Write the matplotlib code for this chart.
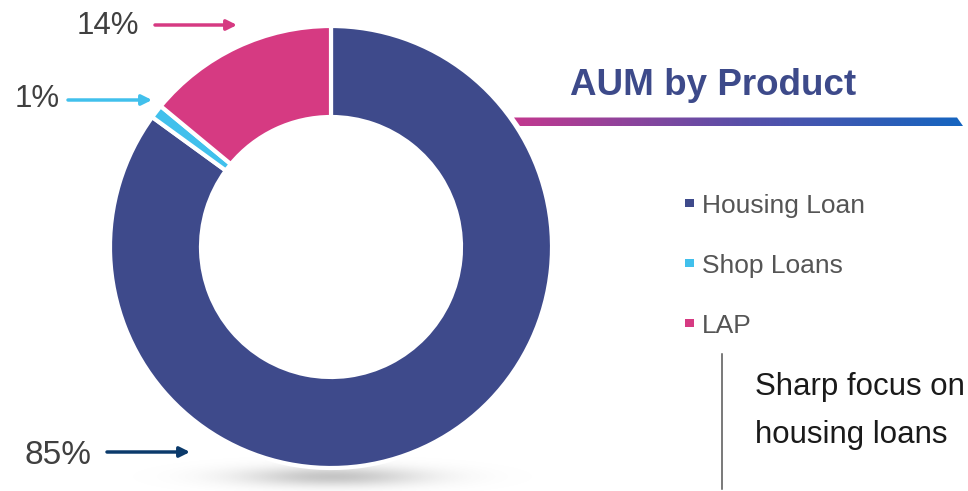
import numpy as np
import matplotlib.pyplot as plt
from matplotlib.patches import Polygon, Rectangle
from matplotlib.colors import LinearSegmentedColormap

products = ["Housing Loan", "Shop Loans", "LAP"]
shares = [85, 1, 14]
colors = ["#3e4a8b", "#41c0ec", "#d63a82"]
pct_labels = ["85%", "1%", "14%"]
arrow_colors = ["#0b3a6b", "#41c0ec", "#d63a82"]

W, H = 968, 491
plt.rcParams['font.family'] = ['Liberation Sans', 'DejaVu Sans']

fig = plt.figure(figsize=(W / 100, H / 100), dpi=100)
ax = fig.add_axes([0, 0, 1, 1])

def py(y):
    # pixel row (top-down) to data y
    return H - y

cx, cy, r_out = 331, py(247), 221

# soft shadow under the donut
gx = np.linspace(-1, 1, 300)
gy = np.linspace(-1, 1, 80)
GX, GY = np.meshgrid(gx, gy)
alpha = np.exp(-(GX ** 2) / 0.12 - (GY ** 2) / 0.12) * 0.5
shadow = np.zeros((80, 300, 4))
shadow[..., :3] = 0.55
shadow[..., 3] = alpha
ax.imshow(shadow, extent=(70, 595, py(505), py(448)), zorder=0, interpolation='bilinear')

ax.pie(shares, colors=colors, startangle=90, counterclock=False,
       radius=r_out, center=(cx, cy),
       wedgeprops=dict(width=91, edgecolor='white', linewidth=3))

# percentage labels with arrows
label_pos = {"85%": (25, 464, 107, 190, 452, 24),
             "1%": (15, 107, 68, 152, 100, 22.5),
             "14%": (77, 34, 155, 237, 25, 22.5)}
for lab, col in zip(pct_labels, arrow_colors):
    tx, ty, x0, x1, ay, fs = label_pos[lab]
    ax.text(tx, py(ty), lab, fontsize=fs, color='#404040', va='baseline', ha='left')
    ax.annotate("", xy=(x1, py(ay)), xytext=(x0, py(ay)),
                arrowprops=dict(arrowstyle='-|>,head_length=0.6,head_width=0.3',
                                color=col, lw=2.5, shrinkA=0, shrinkB=0))

# title and gradient underline
ax.text(570, py(95), "AUM by Product", fontsize=26.5, fontweight='bold',
        color='#3d4a8a', va='baseline', ha='left')
grad = LinearSegmentedColormap.from_list("g", ["#c2388f", "#5a4fa8", "#1565c0"])
band = Polygon([(514, py(117.5)), (957, py(117.5)), (963, py(126)), (520, py(126))],
               closed=True, facecolor='none', edgecolor='none')
ax.add_patch(band)
im = ax.imshow(np.linspace(0, 1, 256)[None, :], cmap=grad, aspect='auto',
               extent=(514, 963, py(126), py(117.5)), zorder=3)
im.set_clip_path(band)

# legend
for name, col, yb in zip(products, colors, [213, 273, 333]):
    ax.add_patch(Rectangle((685, py(yb - 6)), 8.5, 8.5, facecolor=col, edgecolor='none'))
    ax.text(702, py(yb), name, fontsize=19, color='#555555', va='baseline', ha='left')

# takeaway note
ax.plot([722, 722], [py(354), py(489)], color='#555555', lw=1.1)
ax.text(755, py(395), "Sharp focus on", fontsize=22.5, color='#1a1a1a', va='baseline', ha='left')
ax.text(755, py(443), "housing loans", fontsize=22.5, color='#1a1a1a', va='baseline', ha='left')

ax.set_xlim(0, W)
ax.set_ylim(0, H)
ax.set_aspect('equal')
ax.axis('off')
fig.savefig("out.png", dpi=100, facecolor='white')
